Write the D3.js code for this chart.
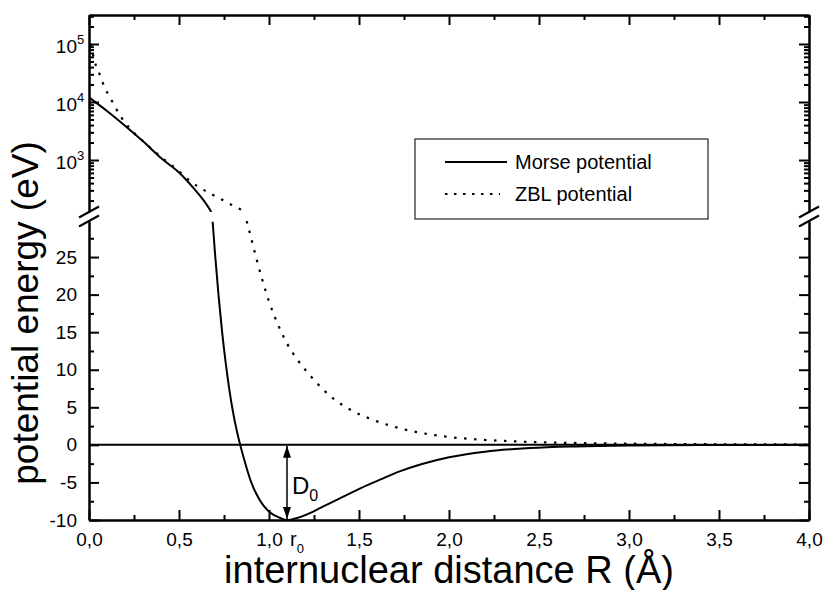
<!DOCTYPE html>
<html>
<head>
<meta charset="utf-8">
<script src="https://cdn.jsdelivr.net/npm/d3@7"></script>
<style>
  body { margin: 0; background: #fff; }
  svg { font-family: "Liberation Sans", Arial, sans-serif; }
  .axis path, .axis line { stroke: #000; stroke-width: 2; }
  .axis text { font-size: 19px; fill: #000; }
</style>
</head>
<body>
<svg id="chart" width="823" height="590"></svg>
<script>
// Morse potential, upper (log) part
var morseLogR = [0, 0.1, 0.2, 0.3, 0.4, 0.5, 0.58, 0.64, 0.68];
var morseLogV = [12000, 7000, 3900, 2100, 1080, 610, 330, 195, 127];
// Morse potential, lower (linear) part
var morseLinR = [0.687, 0.70, 0.72, 0.74, 0.76, 0.78, 0.80, 0.82, 0.84, 0.87, 0.9, 0.95, 1.006, 1.06, 1.10, 1.13, 1.18, 1.23, 1.28, 1.34, 1.39, 1.45, 1.51, 1.62, 1.73, 1.85, 2.0, 2.2, 2.45, 2.7, 3.0, 3.5, 4.0];
var morseLinV = [29.7, 25.5, 19.8, 14.9, 10.8, 7.3, 4.4, 2.0, 0, -2.6, -4.9, -7.4, -9.0, -9.7, -10, -9.9, -9.55, -9.05, -8.45, -7.75, -7.15, -6.45, -5.75, -4.6, -3.5, -2.55, -1.65, -0.9, -0.42, -0.2, -0.08, -0.02, 0];
// ZBL potential
var zblLogR = [0.01, 0.03, 0.061, 0.085, 0.117, 0.178, 0.22, 0.33, 0.39, 0.5, 0.561, 0.617, 0.681, 0.737, 0.793, 0.854];
var zblLogV = [100000, 52000, 29000, 18300, 12000, 5500, 3700, 1750, 1200, 640, 437, 331, 257, 209, 168, 135];
var zblLinR = [0.876, 0.9, 0.93, 0.96, 1.0, 1.05, 1.1, 1.15, 1.23, 1.34, 1.45, 1.57, 1.69, 1.8, 2.0, 2.17, 2.36, 2.54, 2.73, 3.0, 3.5, 4.0];
var zblLinV = [29.8, 27.6, 24.8, 22.2, 19.1, 16.0, 13.5, 11.6, 9.2, 6.5, 4.7, 3.4, 2.45, 1.8, 1.05, 0.7, 0.47, 0.33, 0.24, 0.16, 0.08, 0.05];

var xTicks = [0, 0.5, 1, 1.5, 2, 2.5, 3, 3.5, 4];
var xMinor = [0.25, 0.75, 1.25, 1.75, 2.25, 2.75, 3.25, 3.75];
var linTicks = [-10, -5, 0, 5, 10, 15, 20, 25];
var linMinor = [-7.5, -2.5, 2.5, 7.5, 12.5, 17.5, 22.5, 27.5];
var logTicks = [1e3, 1e4, 1e5];
var logExp = ["3", "4", "5"];
var logMinor = [200, 300, 400, 500, 600, 700, 800, 900,
  2000, 3000, 4000, 5000, 6000, 7000, 8000, 9000,
  20000, 30000, 40000, 50000, 60000, 70000, 80000, 90000, 200000, 300000];

var legendNames = ["Morse potential", "ZBL potential"];

var svg = d3.select("#chart");
var pLeft = 89, pRight = 809, pTop = 15, pBottom = 520;
var logBottom = 212, linTop = 221;

var x = d3.scaleLinear().domain([0, 4]).range([pLeft, pRight]);
var yLog = d3.scaleLog().domain([127, 3.16e5]).range([logBottom, pTop]);
var yLin = d3.scaleLinear().domain([-10, 29.8]).range([pBottom, linTop]);

var fmtX = function(d) { return d.toFixed(1).replace(".", ","); };

/* clip regions */
var defs = svg.append("defs");
defs.append("clipPath").attr("id", "clipLog").append("rect")
  .attr("x", pLeft).attr("y", pTop).attr("width", pRight - pLeft).attr("height", logBottom - pTop);
defs.append("clipPath").attr("id", "clipLin").append("rect")
  .attr("x", pLeft).attr("y", linTop).attr("width", pRight - pLeft).attr("height", pBottom - linTop);

/* x axes */
svg.append("g").attr("class", "axis")
  .attr("transform", "translate(0," + pBottom + ")")
  .call(d3.axisBottom(x).tickValues(xTicks).tickSize(-10).tickSizeOuter(0).tickPadding(13).tickFormat(fmtX));
svg.append("g").attr("class", "axis")
  .attr("transform", "translate(0," + pBottom + ")")
  .call(d3.axisBottom(x).tickValues(xMinor).tickSize(-5).tickSizeOuter(0).tickFormat(""));
svg.append("g").attr("class", "axis")
  .attr("transform", "translate(0," + pTop + ")")
  .call(d3.axisTop(x).tickValues(xTicks).tickSize(-10).tickSizeOuter(0).tickFormat(""));
svg.append("g").attr("class", "axis")
  .attr("transform", "translate(0," + pTop + ")")
  .call(d3.axisTop(x).tickValues(xMinor).tickSize(-5).tickSizeOuter(0).tickFormat(""));

/* y axes, left and right */
[[d3.axisLeft, pLeft], [d3.axisRight, pRight]].forEach(function(a, i) {
  var axis = a[0], pos = a[1];
  svg.append("g").attr("class", "axis").attr("transform", "translate(" + pos + ",0)")
    .call(axis(yLin).tickValues(linTicks).tickSize(-10).tickSizeOuter(0).tickPadding(12)
      .tickFormat(i == 0 ? function(d) { return String(d); } : ""));
  svg.append("g").attr("class", "axis").attr("transform", "translate(" + pos + ",0)")
    .call(axis(yLin).tickValues(linMinor).tickSize(-5).tickSizeOuter(0).tickFormat(""));
  svg.append("g").attr("class", "axis").attr("transform", "translate(" + pos + ",0)")
    .call(axis(yLog).tickValues(logTicks).tickSize(-10).tickSizeOuter(0).tickFormat(""));
  svg.append("g").attr("class", "axis").attr("transform", "translate(" + pos + ",0)")
    .call(axis(yLog).tickValues(logMinor).tickSize(-5).tickSizeOuter(0).tickFormat(""));
  /* break marks */
  [logBottom, linTop].forEach(function(yy) {
    svg.append("line")
      .attr("x1", pos - 10).attr("y1", yy + 5.5)
      .attr("x2", pos + 10).attr("y2", yy - 5.5)
      .attr("stroke", "#000").attr("stroke-width", 2);
  });
});

/* log labels with superscript */
svg.append("g").selectAll("text")
  .data(logTicks)
  .enter().append("text")
    .attr("x", 77)
    .attr("y", function(d) { return yLog(d) + 9; })
    .attr("text-anchor", "end")
    .style("font-size", "19px")
    .text("10");
svg.append("g").selectAll("text")
  .data(logTicks)
  .enter().append("text")
    .attr("x", 77)
    .attr("y", function(d) { return yLog(d) + 0; })
    .style("font-size", "13px")
    .text(function(d, i) { return logExp[i]; });

/* zero line */
svg.append("line")
  .attr("x1", pLeft).attr("x2", pRight)
  .attr("y1", yLin(0)).attr("y2", yLin(0))
  .attr("stroke", "#000").attr("stroke-width", 2);

/* curves */
function pts(r, v) { return r.map(function(d, i) { return [d, v[i]]; }); }
var lineLog = d3.line().x(function(d) { return x(d[0]); }).y(function(d) { return yLog(d[1]); }).curve(d3.curveMonotoneX);
var lineLin = d3.line().x(function(d) { return x(d[0]); }).y(function(d) { return yLin(d[1]); }).curve(d3.curveMonotoneX);

var gLog = svg.append("g").attr("clip-path", "url(#clipLog)");
var gLin = svg.append("g").attr("clip-path", "url(#clipLin)");

gLog.append("path").attr("d", lineLog(pts(morseLogR, morseLogV)))
  .attr("fill", "none").attr("stroke", "#000").attr("stroke-width", 2);
gLog.append("path").attr("d", lineLog(pts(zblLogR, zblLogV)))
  .attr("fill", "none").attr("stroke", "#000").attr("stroke-width", 2.2).attr("stroke-dasharray", "2.5,7.5");
gLin.append("path").attr("d", lineLin(pts(morseLinR, morseLinV)))
  .attr("fill", "none").attr("stroke", "#000").attr("stroke-width", 2);
gLin.append("path").attr("d", lineLin(pts(zblLinR, zblLinV)))
  .attr("fill", "none").attr("stroke", "#000").attr("stroke-width", 2.2).attr("stroke-dasharray", "2.5,7.5");

/* D0 arrow */
defs.append("marker").attr("id", "arrow")
  .attr("viewBox", "0 0 12 8").attr("refX", 12).attr("refY", 4)
  .attr("markerWidth", 12).attr("markerHeight", 8)
  .attr("markerUnits", "userSpaceOnUse")
  .attr("orient", "auto-start-reverse")
  .append("path").attr("d", "M0,0 L12,4 L0,8 Z").attr("fill", "#000");
svg.append("line")
  .attr("x1", x(1.1)).attr("x2", x(1.1))
  .attr("y1", yLin(0) + 1).attr("y2", yLin(-10) - 1)
  .attr("stroke", "#000").attr("stroke-width", 1.5)
  .attr("marker-start", "url(#arrow)").attr("marker-end", "url(#arrow)");
var d0 = svg.append("text").attr("x", x(1.1) + 5).attr("y", 494).style("font-size", "24px");
d0.append("tspan").text("D");
d0.append("tspan").attr("dy", 7).style("font-size", "16px").text("0");
var r0 = svg.append("text").attr("x", x(1.1) + 3).attr("y", 546).style("font-size", "20px");
r0.append("tspan").text("r");
r0.append("tspan").attr("dy", 7).style("font-size", "13px").text("0");

/* legend */
var leg = svg.append("g");
leg.append("rect").attr("x", 415).attr("y", 139).attr("width", 293).attr("height", 80)
  .attr("fill", "#fff").attr("stroke", "#222").attr("stroke-width", 1.2);
leg.selectAll("line.l").data(legendNames).enter().append("line")
  .attr("x1", 445).attr("x2", function(d, i) { return i == 0 ? 507 : 500; })
  .attr("y1", function(d, i) { return 162 + i * 32; })
  .attr("y2", function(d, i) { return 162 + i * 32; })
  .attr("stroke", "#000").attr("stroke-width", 2)
  .attr("stroke-dasharray", function(d, i) { return i == 0 ? null : "2.5,6.5"; });
leg.selectAll("text").data(legendNames).enter().append("text")
  .attr("x", 515).attr("y", function(d, i) { return 169 + i * 32; })
  .style("font-size", "20px").text(function(d) { return d; });

/* axis titles */
svg.append("text")
  .attr("x", 449).attr("y", 583)
  .attr("text-anchor", "middle").style("font-size", "38px")
  .text("internuclear distance R (Å)");
svg.append("text")
  .attr("transform", "translate(38,313) rotate(-90)")
  .attr("text-anchor", "middle").style("font-size", "37px")
  .text("potential energy (eV)");
</script>
</body>
</html>
